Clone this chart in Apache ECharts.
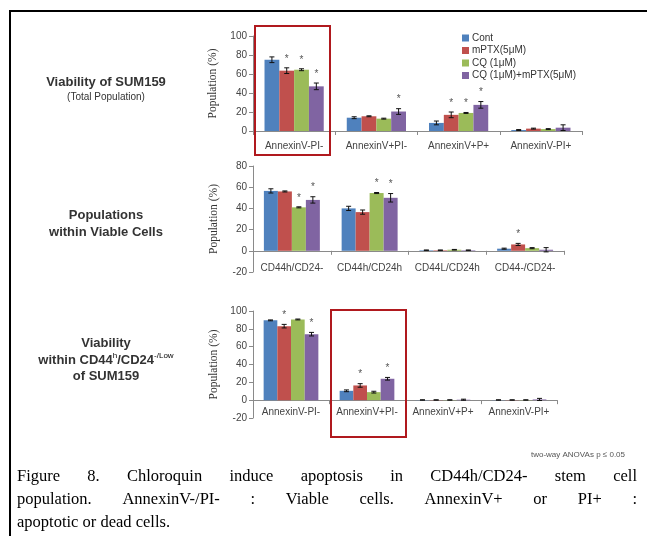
<!doctype html>
<html lang="en">
<head>
<meta charset="UTF-8">
<title>Figure 8</title>
<script src="https://cdn.jsdelivr.net/npm/echarts@6/dist/echarts.min.js"></script>
<style>
  html, body { margin: 0; padding: 0; background: #fff; }
  #main { width: 647px; height: 536px; }
</style>
</head>
<body>
<div id="main"></div>
<script type="text/javascript">
// treatments (legend)
var treatments = ['Cont', 'mPTX(5μM)', 'CQ (1μM)', 'CQ (1μM)+mPTX(5μM)'];
var colors = ['#4F81BD', '#C0504D', '#9BBB59', '#8064A2'];

// panel 1 : viability of SUM159 (total)
var totalCats = ['AnnexinV-PI-', 'AnnexinV+PI-', 'AnnexinV+P+', 'AnnexinV-PI+'];
var totalVals = [
    [75, 14, 8.5, 1],
    [63.5, 15.5, 17, 2.5],
    [64.5, 13, 19, 2],
    [47, 20.5, 27.5, 3.5]
];
var totalErr = [
    [3, 1, 2, 0.5],
    [3, 0.5, 3, 0.5],
    [1, 0.5, 0.5, 0.5],
    [3.5, 3, 3.5, 3]
];
var totalSig = [
    [0, 0, 0, 0],
    [1, 0, 1, 0],
    [1, 0, 1, 0],
    [1, 1, 1, 0]
];

// panel 2 : populations within viable cells
var viableCats = ['CD44h/CD24-', 'CD44h/CD24h', 'CD44L/CD24h', 'CD44-/CD24-'];
var viableVals = [
    [56.5, 40, 0.5, 2],
    [56, 36.5, 0.5, 6],
    [41, 54.5, 1, 2.5],
    [48, 50, 0.5, 1]
];
var viableErr = [
    [2, 2, 0.3, 0.5],
    [0.5, 2, 0.3, 1],
    [0.5, 0.5, 0.3, 0.5],
    [3, 4, 0.3, 2]
];
var viableSig = [
    [0, 0, 0, 0],
    [0, 0, 0, 1],
    [1, 1, 0, 0],
    [1, 1, 0, 0]
];

// panel 3 : viability within CD44h/CD24-/low
var stemCats = ['AnnexinV-PI-', 'AnnexinV+PI-', 'AnnexinV+P+', 'AnnexinV-PI+'];
var stemVals = [
    [89.5, 10.5, 0.2, 0.2],
    [83, 16.5, 0.2, 0.2],
    [90.5, 9, 0.2, 0.2],
    [74, 24, 0.5, 0.8]
];
var stemErr = [
    [0.5, 1, 0.2, 0.2],
    [2, 2, 0.2, 0.2],
    [0.5, 1, 0.2, 0.2],
    [2, 1.5, 0.6, 1.2]
];
var stemSig = [
    [0, 0, 0, 0],
    [1, 1, 0, 0],
    [0, 0, 0, 0],
    [1, 1, 0, 0]
];

var captionLines = [
    'Figure 8. Chloroquin induce apoptosis in CD44h/CD24- stem cell',
    'population. AnnexinV-/PI- : Viable cells. AnnexinV+ or PI+ :',
    'apoptotic or dead cells.'
];

var GAP = 0.28; // barCategoryGap

var axisGrey = '#8a8a8a';
var labelFont = 'Liberation Sans';

function makeX(idx, cats, margin) {
    return {
        type: 'category', gridIndex: idx, data: cats,
        axisLine: { lineStyle: { color: axisGrey } },
        axisTick: { show: true, length: 4, lineStyle: { color: axisGrey } },
        axisLabel: { interval: 0, fontFamily: labelFont, fontSize: 10, color: '#444', margin: margin }
    };
}
function makeY(idx, min, max) {
    return {
        type: 'value', gridIndex: idx, min: min, max: max, interval: 20,
        name: 'Population (%)', nameLocation: 'middle', nameGap: 33,
        nameTextStyle: { fontFamily: 'Liberation Serif', fontSize: 11.5, color: '#333' },
        axisLine: { show: true, lineStyle: { color: axisGrey } },
        axisTick: { show: true, length: 4, lineStyle: { color: axisGrey } },
        splitLine: { show: false },
        axisLabel: { fontFamily: labelFont, fontSize: 10, color: '#444', margin: 6 }
    };
}

// error bars + stars
function errRender(params, api) {
    var cat = api.value(0), s = api.value(1), v = api.value(2), e = api.value(3), sig = api.value(4);
    var catW = api.size([1, 0])[0];
    var bw = catW * (1 - GAP) / 4;
    var x = api.coord([cat, 0])[0] + (s - 1.5) * bw;
    var top = api.coord([cat, v + e])[1];
    var bot = api.coord([cat, v - e])[1];
    var cap = 2.5;
    var st = { stroke: '#111', lineWidth: 1 };
    var kids = [
        { type: 'line', shape: { x1: x, y1: top, x2: x, y2: bot }, style: st },
        { type: 'line', shape: { x1: x - cap, y1: top, x2: x + cap, y2: top }, style: st },
        { type: 'line', shape: { x1: x - cap, y1: bot, x2: x + cap, y2: bot }, style: st }
    ];
    if (sig) {
        kids.push({ type: 'text', x: x, y: top - 4,
            style: { text: '*', fill: '#555', font: '10px Liberation Sans', align: 'center', verticalAlign: 'bottom' } });
    }
    return { type: 'group', children: kids };
}

var series = [];
function addPanel(idx, vals, errs, sigs) {
    var errData = [];
    for (var s = 0; s < 4; s++) {
        series.push({
            name: treatments[s], type: 'bar', xAxisIndex: idx, yAxisIndex: idx,
            data: vals[s], barGap: '0%', barCategoryGap: (GAP * 100) + '%',
            itemStyle: { color: colors[s] }, animation: false
        });
        for (var c = 0; c < vals[s].length; c++) {
            errData.push([c, s, vals[s][c], errs[s][c], sigs[s][c]]);
        }
    }
    series.push({
        type: 'custom', xAxisIndex: idx, yAxisIndex: idx, renderItem: errRender,
        data: errData, z: 5, silent: true, animation: false
    });
}
addPanel(0, totalVals, totalErr, totalSig);
addPanel(1, viableVals, viableErr, viableSig);
addPanel(2, stemVals, stemErr, stemSig);

// justified caption, word by word
var capFont = '16.5px "Liberation Serif"';
var mctx = document.createElement('canvas').getContext('2d');
mctx.font = capFont;
var capLeft = 17, capRight = 637, capY = [477, 500, 523];
var captionEls = [];
captionLines.forEach(function (line, li) {
    var words = line.split(' ');
    var widths = words.map(function (w) { return mctx.measureText(w).width; });
    var total = widths.reduce(function (a, b) { return a + b; }, 0);
    var justify = li < captionLines.length - 1;
    var gap = justify ? (capRight - capLeft - total) / (words.length - 1) : mctx.measureText(' ').width;
    var x = capLeft;
    words.forEach(function (w, i) {
        captionEls.push({ type: 'text', x: x, y: capY[li],
            style: { text: w, font: capFont, fill: '#000', align: 'left', verticalAlign: 'middle' } });
        x += widths[i] + gap;
    });
});

var boldFont = 'bold 13px Liberation Sans';
var sideText = [
    { type: 'text', x: 106, y: 82, style: { text: 'Viability of SUM159', font: boldFont, fill: '#333', align: 'center', verticalAlign: 'middle' } },
    { type: 'text', x: 106, y: 97, style: { text: '(Total Population)', font: '10px Liberation Sans', fill: '#333', align: 'center', verticalAlign: 'middle' } },
    { type: 'text', x: 106, y: 215, style: { text: 'Populations', font: boldFont, fill: '#333', align: 'center', verticalAlign: 'middle' } },
    { type: 'text', x: 106, y: 232, style: { text: 'within Viable Cells', font: boldFont, fill: '#333', align: 'center', verticalAlign: 'middle' } },
    { type: 'text', x: 106, y: 343, style: { text: 'Viability', font: boldFont, fill: '#333', align: 'center', verticalAlign: 'middle' } },
    { type: 'text', x: 106, y: 360, style: {
        text: '{b|within CD44}{s|h}{b|/CD24}{s|-/Low}', align: 'center', verticalAlign: 'middle',
        rich: {
            b: { font: boldFont, fill: '#333', color: '#333', lineHeight: 16 },
            s: { font: '8px Liberation Sans', color: '#333', verticalAlign: 'top', lineHeight: 16, padding: [0, 0, 6, 0] }
        } } },
    { type: 'text', x: 106, y: 376, style: { text: 'of SUM159', font: boldFont, fill: '#333', align: 'center', verticalAlign: 'middle' } },
    { type: 'text', x: 625, y: 455, style: { text: 'two-way ANOVAs p ≤ 0.05', font: '8px Liberation Sans', fill: '#555', align: 'right', verticalAlign: 'middle' } }
];

var boxes = [
    { type: 'rect', shape: { x: 255, y: 26, width: 75, height: 129 }, style: { fill: 'none', stroke: '#B0191E', lineWidth: 2 }, z: 10 },
    { type: 'rect', shape: { x: 331, y: 310, width: 75, height: 127 }, style: { fill: 'none', stroke: '#B0191E', lineWidth: 2 }, z: 10 },
    { type: 'polyline', shape: { points: [[10, 536], [10, 11], [647, 11]] }, style: { stroke: '#000', lineWidth: 2, fill: 'none' } }
];

var myChart = echarts.init(document.getElementById('main'), null, { renderer: 'canvas' });
var option = {
    backgroundColor: '#fff',
    animation: false,
    color: colors,
    legend: {
        data: treatments, orient: 'vertical', left: 457, top: 28,
        icon: 'rect', itemWidth: 7, itemHeight: 7, itemGap: 2.5,
        textStyle: { fontFamily: labelFont, fontSize: 10, color: '#333', padding: [0, 0, 0, -2] }
    },
    grid: [
        { left: 253, top: 36, width: 329, height: 95 },
        { left: 253, top: 166, width: 311, height: 106 },
        { left: 253, top: 311, width: 304, height: 107 }
    ],
    xAxis: [makeX(0, totalCats, 10), makeX(1, viableCats, -9), makeX(2, stemCats, -11)],
    yAxis: [makeY(0, 0, 100), makeY(1, -20, 80), makeY(2, -20, 100)],
    series: series,
    graphic: boxes.concat(sideText).concat(captionEls)
};
myChart.setOption(option);
</script>
</body>
</html>
